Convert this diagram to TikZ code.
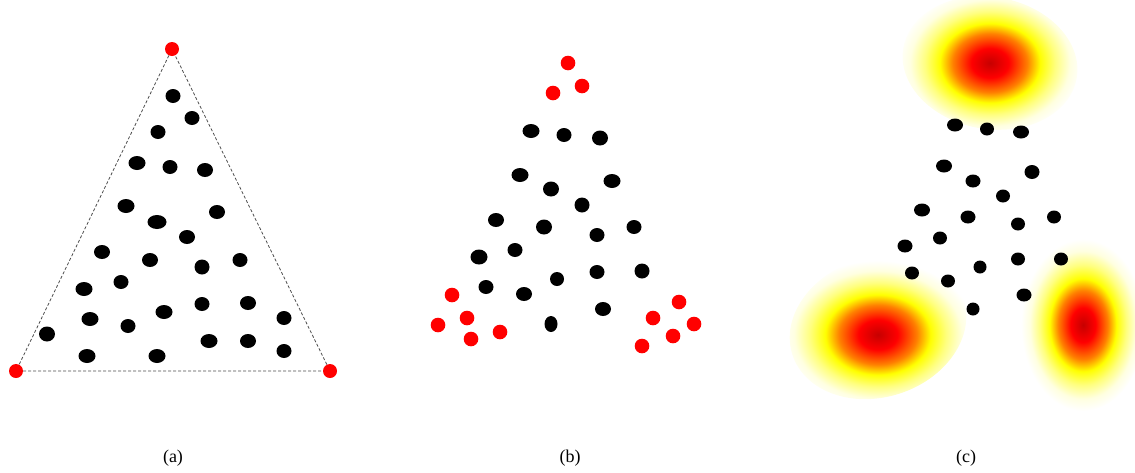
\documentclass[tikz,border=0pt]{standalone}
\usepackage{fontspec}
\setmainfont{Liberation Serif}
\pgfdeclareradialshading{heat}{\pgfpoint{0bp}{0bp}}{%
  color(0bp)=(red!78!black);
  color(5bp)=(red);
  color(10bp)=(orange);
  color(13.5bp)=(yellow);
  color(17.5bp)=(yellow!50);
  color(21.5bp)=(yellow!12);
  color(25bp)=(white);
  color(50bp)=(white)}
\begin{document}
\begin{tikzpicture}[x=1pt,y=-1pt,
  corner/.style={circle,fill=red,inner sep=0pt,minimum size=14pt},
  tri/.style={draw=black!70,dash pattern=on 3pt off 2pt,line width=0.8pt},
  lbl/.style={font=\fontsize{18}{21}\selectfont,inner sep=0pt}]
\useasboundingbox (0,0) rectangle (1135,472);
\begin{scope}
\clip (0,0) rectangle (1135,472);
% ---------- panel (c) heat blobs ----------
\shade[shading=heat,rotate around={-10:(990,63)}] (990,63) ellipse [x radius=88,y radius=66];
\shade[shading=heat,rotate around={18:(878,327)}] (878,327) ellipse [x radius=90,y radius=70];
\shade[shading=heat] (1083,325) ellipse [x radius=62,y radius=86];
\end{scope}
% ---------- panel (a) ----------
\node[corner] (ta) at (172,49) {};
\node[corner] (tl) at (16,371) {};
\node[corner] (tr) at (330,371) {};
\draw[tri] (ta) -- (tl) -- (tr) -- (ta);
\foreach \x/\y/\rx/\ry in {
 173/96/7.5/7, 192/118/7.5/7, 158/132/7.5/7, 137/163/8.5/7, 170/167/7.5/7,
 205/170/8/7, 126/206/8.5/7, 157/222/9.5/7, 217/212/8/7, 187/237/8/7,
 102/252/8/7, 150/260/8/7, 202/267/7.5/7.5, 240/260/7.5/7, 84/289/8.5/7,
 121/282/7.5/7, 90/319/8.5/7, 164/312/8.5/7, 202/304/7.5/7, 248/303/8/7,
 284/318/7.5/7, 47/334/8/7.5, 128/326/7.5/7, 87/356/8.5/7, 157/356/8.5/7,
 209/341/8.5/7, 248/341/8/7, 284/351/7.5/7}
 \fill (\x,\y) ellipse [x radius=\rx,y radius=\ry];
% ---------- panel (b) ----------
\foreach \x/\y in {568/63, 582/86, 553/93, 452/295, 467/318, 438/325, 471/339,
 500/332, 679/302, 653/318, 694/324, 673/336, 642/346}
 \fill[red] (\x,\y) circle [radius=7.3];
\foreach \x/\y/\rx/\ry in {
 531/131/8.5/7, 564/135/7.5/7, 600/138/8/7.5, 520/175/8.5/7, 551/189/8/7.5,
 612/181/8.5/7, 582/205/7.5/7.5, 496/220/8/7, 544/227/8/7.5, 597/235/7.5/7,
 634/227/7.5/7, 479/257/8.5/7.5, 515/250/7.5/7, 486/287/7.5/7, 524/294/8/7,
 557/279/7/7, 597/272/7.5/7, 642/271/7.5/7.5, 603/309/8/7, 551/324/6.5/8}
 \fill (\x,\y) ellipse [x radius=\rx,y radius=\ry];
% ---------- panel (c) ----------
\foreach \x/\y/\rx/\ry in {
 955/125/8/6.5, 987/129/7/6.5, 1021/132/8/6.5, 944/166/8/6.5, 1032/172/7.5/7,
 973/181/7.5/6.5, 1003/196/7/6.5, 922/210/8/6.5, 968/217/7.5/6.5, 1018/224/7/6.5,
 1054/217/7/6.5, 905/246/7.5/6.5, 940/238/7/6.5, 980/267/6.5/6.5, 1018/259/7/6.5,
 1061/259/7/6.5, 912/273/7/6.5, 948/281/7/6.5, 1024/295/7.5/6.5, 973/309/6.5/6.5}
 \fill (\x,\y) ellipse [x radius=\rx,y radius=\ry];
% ---------- labels ----------
\node[lbl] (la) at (173,458) {(a)};
\node[lbl] (lb) at (570,458) {(b)};
\node[lbl] (lc) at (966,458) {(c)};
\end{tikzpicture}
\end{document}
